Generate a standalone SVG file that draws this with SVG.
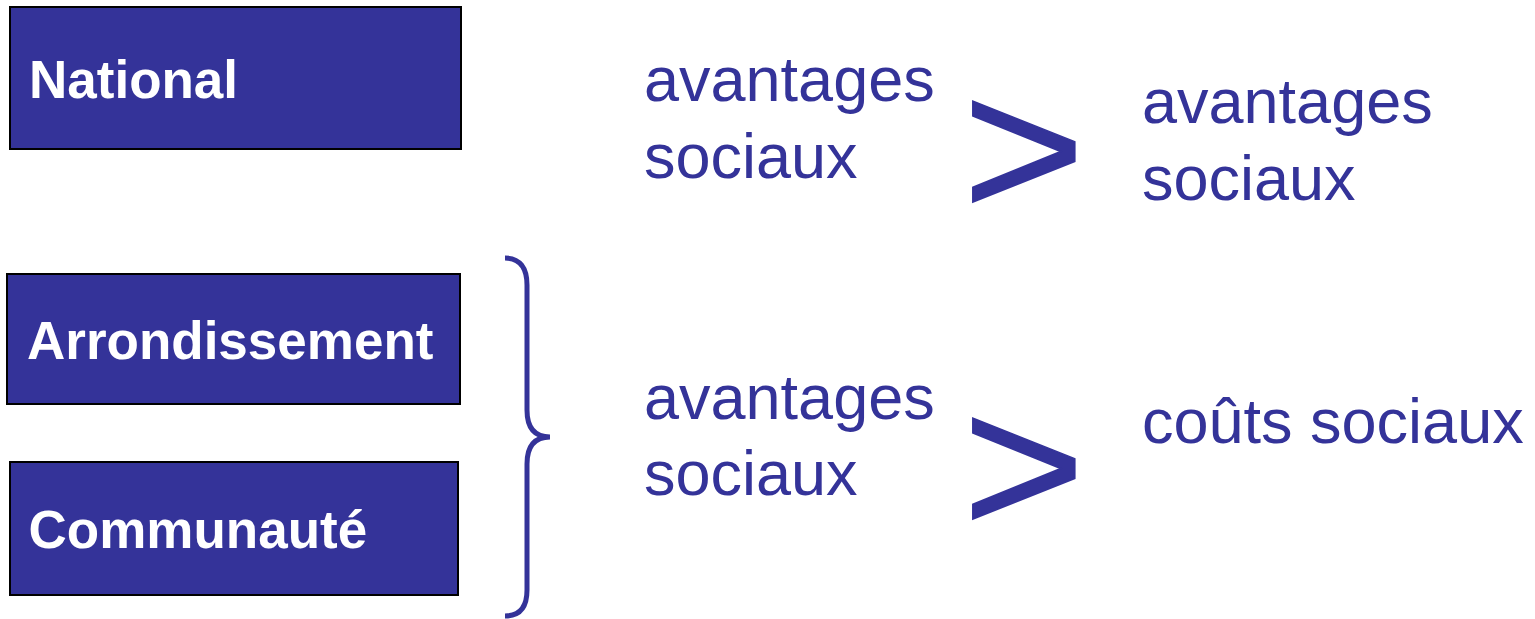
<svg xmlns="http://www.w3.org/2000/svg" width="1535" height="619" viewBox="0 0 1535 619">
<style>
.box{fill:#343399;stroke:#000;stroke-width:2}
.lbl{font-family:"Liberation Sans",Arial,sans-serif;font-weight:bold;font-size:53px;fill:#fff}
.txt{font-family:"Liberation Sans",Arial,sans-serif;font-size:63px;fill:#343399}
.gt{font-family:"Liberation Sans",Arial,sans-serif;font-size:198px;fill:#343399;stroke:#343399;stroke-width:1.5}
</style>
<rect width="1535" height="619" fill="#fff"/>
<g id="national">
<rect class="box" x="10" y="7" width="451" height="142"/>
<text class="lbl" x="29" y="98">National</text>
</g>
<g id="arrondissement">
<rect class="box" x="7" y="274" width="453" height="130"/>
<text class="lbl" x="27" y="359">Arrondissement</text>
</g>
<g id="communaute">
<rect class="box" x="10" y="462" width="448" height="133"/>
<text class="lbl" x="28.5" y="548">Communauté</text>
</g>
<g id="connectors">
<path d="M505,258 C520,258 527,268 527,285 L527,410 C527,428 535,437 550,437 C535,437 527,446 527,464 L527,590 C527,607 520,616 505,616" fill="none" stroke="#343399" stroke-width="5"/>
</g>
<g id="row1">
<text class="txt" x="644" y="101">avantages</text>
<text class="txt" x="644" y="178">sociaux</text>
<text class="gt" x="963" y="217" transform="translate(972,0) scale(1.06,1) translate(-972,0)">&gt;</text>
<text class="txt" x="1142" y="123">avantages</text>
<text class="txt" x="1142" y="200">sociaux</text>
</g>
<g id="row2">
<text class="txt" x="644" y="419">avantages</text>
<text class="txt" x="644" y="495">sociaux</text>
<text class="gt" x="963" y="534" transform="translate(972,0) scale(1.06,1) translate(-972,0)">&gt;</text>
<text class="txt" x="1142" y="443">coûts sociaux</text>
</g>
</svg>
